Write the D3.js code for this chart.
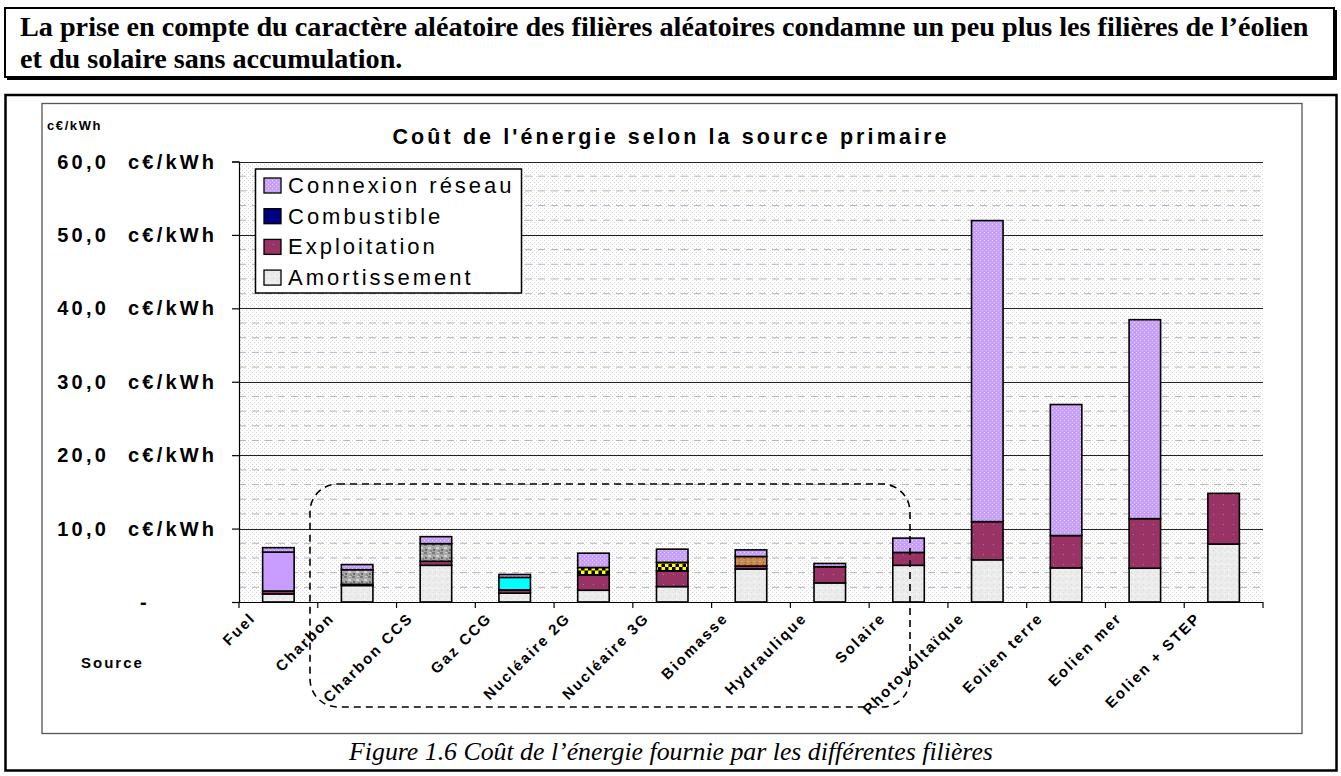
<!DOCTYPE html>
<html><head><meta charset="utf-8">
<script src="https://cdn.jsdelivr.net/npm/d3@7/dist/d3.min.js"></script>
<style>body{margin:0;background:#fff}svg{display:block}</style>
</head><body>
<script>
// ---------- DATA ----------
const categories = ["Fuel","Charbon","Charbon CCS","Gaz CCG","Nucléaire 2G","Nucléaire 3G","Biomasse","Hydraulique","Solaire","Photovoltaïque","Eolien terre","Eolien mer","Eolien + STEP"];
const amortissement = [1.1, 2.25, 5.0, 1.2, 1.6, 2.1, 4.5, 2.6, 5.0, 5.75, 4.65, 4.6, 7.9];
const exploitation  = [0.4, 0.15, 0.55, 0.45, 2.1, 2.15, 0.4, 2.2, 1.75, 5.2, 4.4, 6.75, 6.9];
const combustible   = [5.3, 2.0, 2.4, 1.7, 1.0, 1.15, 1.3, 0, 0, 0, 0, 0, 0];
const connexion     = [0.6, 0.7, 0.95, 0.4, 1.95, 1.8, 0.9, 0.45, 1.95, 41.0, 17.85, 27.1, 0];
const seriesNames = ["Amortissement","Exploitation","Combustible","Connexion réseau"];
const yTicks = [0,10,20,30,40,50,60];
const yUnit = "c€/kWh";
const chartTitle = "Coût de l'énergie selon la source primaire";
const headerLines = ["La prise en compte du caractère aléatoire des filières aléatoires condamne un peu plus les filières de l’éolien","et du solaire sans accumulation."];
const caption = "Figure 1.6 Coût de l’énergie fournie par les différentes filières";

// ---------- STYLES ----------
const seriesFill = {"Amortissement":"url(#pAmort)","Exploitation":"url(#pExpl)","Combustible":"#000080","Connexion réseau":"url(#pConn)"};
const combustibleFill = {"Fuel":"#c99cff","Charbon":"url(#pMarble)","Charbon CCS":"url(#pMarble)","Gaz CCG":"#00ffff","Nucléaire 2G":"url(#pCheck)","Nucléaire 3G":"url(#pCheck)","Biomasse":"url(#pBrown)"};

const W=1341,H=776;
const svg=d3.select("body").append("svg").attr("width",W).attr("height",H);
const defs=svg.append("defs");
function pat(id,w,h,base,dots){
  const p=defs.append("pattern").attr("id",id).attr("patternUnits","userSpaceOnUse").attr("width",w).attr("height",h);
  p.append("rect").attr("width",w).attr("height",h).attr("fill",base);
  dots.forEach(d=>p.append("rect").attr("x",d[0]).attr("y",d[1]).attr("width",d[2]).attr("height",d[3]).attr("fill",d[4]));
}
pat("pDots",4,4,"#ffffff",[[0,0,1,1,"#d2d2d2"],[2,2,1,1,"#d2d2d2"]]);
pat("pAmort",6,6,"#ebebeb",[[0,0,1,1,"#f9f9f9"],[3,2,1,1,"#d6d6d6"],[1,4,1,1,"#dcdcdc"],[4,5,1,1,"#fafafa"]]);
pat("pExpl",10,10,"#993366",[[3,4,1,1,"#b07a92"]]);
pat("pConn",4,4,"#c8a0f6",[[0,0,1,1,"#e6d6ff"],[2,2,1,1,"#ddc8ff"],[2,0,1,1,"#b890ee"]]);
pat("pMarble",8,8,"#a8a8a8",[[0,0,3,2,"#7a7a7a"],[4,3,3,2,"#d4d4d4"],[1,5,2,2,"#6a6a6a"],[5,0,2,1,"#cfcfcf"],[6,6,2,2,"#888888"]]);
pat("pCheck",7,7,"#ffff00",[[0,0,3.5,3.5,"#000"],[3.5,3.5,3.5,3.5,"#000"]]);
pat("pBrown",6,6,"#c98a50",[[0,0,2,1,"#a8672e"],[3,3,2,1,"#e0aa70"],[1,4,1,1,"#9a5a25"]]);

// ---------- HEADER BOX ----------
svg.append("rect").attr("x",5).attr("y",8).attr("width",1329).attr("height",69).attr("fill","#fff").attr("stroke","#000").attr("stroke-width",2);
svg.append("line").attr("x1",7).attr("x2",1337).attr("y1",78.5).attr("y2",78.5).attr("stroke","#000").attr("stroke-width",3);
svg.append("line").attr("x1",1335.5).attr("x2",1335.5).attr("y1",10).attr("y2",80).attr("stroke","#000").attr("stroke-width",3);
headerLines.forEach((t,i)=>svg.append("text").attr("x",20).attr("y",36+i*32).attr("font-family","Liberation Serif").attr("font-weight","bold").attr("font-size",28.2).text(t));

// ---------- FRAMES ----------
svg.append("rect").attr("x",5.5).attr("y",95).attr("width",1331).attr("height",675.5).attr("fill","none").attr("stroke","#000").attr("stroke-width",2.5);
svg.append("rect").attr("x",42).attr("y",103.5).attr("width",1260).attr("height",630).attr("fill","none").attr("stroke","#555").attr("stroke-width",1.3);

// ---------- SCALES ----------
const x=d3.scaleBand().domain(categories).range([239,1263]).paddingInner(0.6).paddingOuter(0.3);
const y=d3.scaleLinear().domain([0,60]).range([602,161.5]);
const step=x.step();

// plot background
svg.append("rect").attr("x",239).attr("y",y(60)).attr("width",1024).attr("height",y(0)-y(60)).attr("fill","url(#pDots)");

// minor grid
const minors=d3.range(2,60,2).filter(v=>v%10!==0);
svg.append("g").selectAll("line").data(minors).join("line")
  .attr("x1",239).attr("x2",1263).attr("y1",d=>y(d)).attr("y2",d=>y(d))
  .attr("stroke",d=>d%4===2?"#c4aacb":"#b4b4b4").attr("stroke-width",1).attr("stroke-dasharray","7,6");
// major grid
svg.append("g").selectAll("line").data(yTicks.filter(v=>v>0)).join("line")
  .attr("x1",239).attr("x2",1263).attr("y1",d=>Math.round(y(d))+0.5).attr("y2",d=>Math.round(y(d))+0.5)
  .attr("stroke","#222").attr("stroke-width",1);

// ---------- BARS ----------
const table=categories.map((c,i)=>({cat:c,"Amortissement":amortissement[i],"Exploitation":exploitation[i],"Combustible":combustible[i],"Connexion réseau":connexion[i]}));
const stack=d3.stack().keys(seriesNames)(table);
stack.forEach(s=>{
  svg.append("g").selectAll("rect").data(s.filter(d=>d[1]-d[0]>0)).join("rect")
    .attr("x",d=>x(d.data.cat)).attr("width",x.bandwidth())
    .attr("y",d=>y(d[1])).attr("height",d=>y(d[0])-y(d[1]))
    .attr("fill",d=>s.key==="Combustible"?(combustibleFill[d.data.cat]||seriesFill[s.key]):seriesFill[s.key])
    .attr("stroke","#000").attr("stroke-width",1.6);
});

// ---------- AXES ----------
const yAxis=svg.append("g").attr("transform","translate(239,0)")
  .call(d3.axisLeft(y).tickValues(yTicks).tickSize(7).tickFormat(""));
yAxis.select(".domain").attr("stroke","#000").attr("stroke-width",1.2);
yAxis.selectAll(".tick line").attr("stroke","#000").attr("stroke-width",1.2);
const fmt=v=>v===0?"-":d3.format(".1f")(v).replace(".",",");
const lab=svg.append("g").attr("font-family","Liberation Sans").attr("font-weight","bold").attr("font-size",20).attr("letter-spacing",3.2);
lab.selectAll("text.num").data(yTicks).join("text").attr("class","num")
  .attr("x",d=>d===0?140:109).attr("y",d=>y(d)+7).attr("text-anchor",d=>d===0?"start":"end").text(fmt);
lab.selectAll("text.unit").data(yTicks.filter(v=>v>0)).join("text").attr("class","unit")
  .attr("x",128).attr("y",d=>y(d)+7).text(yUnit);

const bTicks=d3.range(categories.length+1).map(i=>239+i*step);
const xAxis=svg.append("g");
xAxis.append("line").attr("x1",232).attr("x2",1263).attr("y1",602.5).attr("y2",602.5).attr("stroke","#000").attr("stroke-width",1.2);
xAxis.selectAll("line.t").data(bTicks).join("line").attr("class","t")
  .attr("x1",d=>d).attr("x2",d=>d).attr("y1",602).attr("y2",608).attr("stroke","#000").attr("stroke-width",1.2);
xAxis.selectAll("text").data(categories).join("text")
  .attr("transform",d=>`translate(${x(d)+x.bandwidth()/2-22},619) rotate(-45)`)
  .attr("text-anchor","end").attr("font-family","Liberation Sans").attr("font-weight","bold").attr("font-size",15).attr("letter-spacing",2)
  .text(d=>d);

// ---------- TEXTS ----------
svg.append("text").attr("x",671).attr("y",144).attr("text-anchor","middle").attr("font-family","Liberation Sans").attr("font-weight","bold").attr("font-size",21.5).attr("letter-spacing",3.1).text(chartTitle);
svg.append("text").attr("x",47).attr("y",130).attr("font-family","Liberation Sans").attr("font-weight","bold").attr("font-size",13).attr("letter-spacing",1.6).text(yUnit);
svg.append("text").attr("x",81).attr("y",668).attr("font-family","Liberation Sans").attr("font-weight","bold").attr("font-size",15).attr("letter-spacing",2).text("Source");
svg.append("text").attr("x",671).attr("y",760).attr("text-anchor","middle").attr("font-family","Liberation Serif").attr("font-style","italic").attr("font-size",25.8).text(caption);

// ---------- LEGEND ----------
const leg=svg.append("g");
leg.append("rect").attr("x",255.5).attr("y",169).attr("width",266).attr("height",124).attr("fill","#fff").attr("stroke","#000").attr("stroke-width",1.5);
const legItems=seriesNames.slice().reverse();
legItems.forEach((n,i)=>{
  leg.append("rect").attr("x",264).attr("y",178+i*30.7).attr("width",17).attr("height",15).attr("fill",seriesFill[n]).attr("stroke","#000").attr("stroke-width",1.3);
  leg.append("text").attr("x",288).attr("y",193+i*30.7).attr("font-family","Liberation Sans").attr("font-size",22).attr("letter-spacing",3).text(n);
});

// ---------- ANNOTATION ----------
svg.append("rect").attr("x",310).attr("y",484).attr("width",600).attr("height",223).attr("rx",28).attr("ry",28)
  .attr("fill","none").attr("stroke","#000").attr("stroke-width",1.6).attr("stroke-dasharray","7,5");
</script>
</body></html>
